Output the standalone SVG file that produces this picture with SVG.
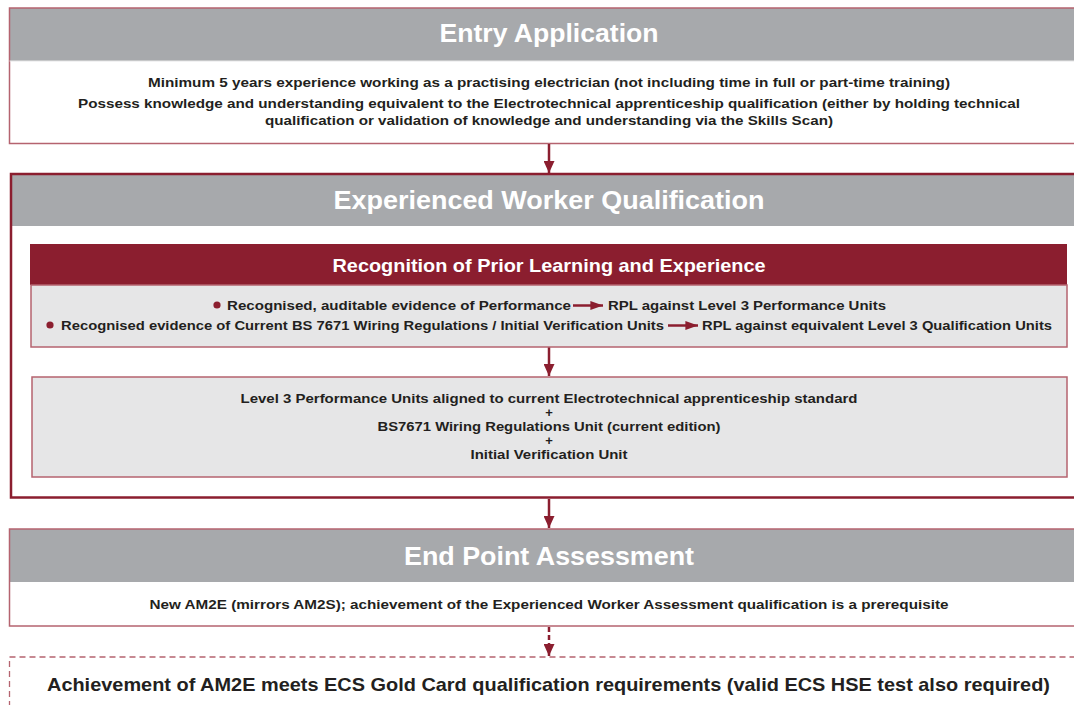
<svg xmlns="http://www.w3.org/2000/svg" width="1074" height="705" viewBox="0 0 1074 705">
<defs>
<style>
.hdr{fill:#a7a9ac}
.ttl{font-family:"Liberation Sans",Arial,sans-serif;font-weight:bold;fill:#ffffff;text-anchor:middle}
.bd{font-family:"Liberation Sans",Arial,sans-serif;font-weight:bold;font-size:13px;fill:#231f20;text-anchor:middle}
.bdl{font-family:"Liberation Sans",Arial,sans-serif;font-weight:bold;font-size:13px;fill:#231f20}
.lb{fill:none;stroke:#b5636f;stroke-width:1.5}
.gb{fill:#e6e6e7;stroke:#b5636f;stroke-width:1.5}
.conn{stroke:#8b1e2f;stroke-width:2.5;fill:none}
.bul{fill:#8b1e2f}
</style>
<marker id="ah" viewBox="0 0 12 11" refX="12" refY="5.5" markerWidth="12" markerHeight="11" markerUnits="userSpaceOnUse" orient="auto">
<path d="M0,0 L12,5.5 L0,11 Z" fill="#8b1e2f"/>
</marker>
<marker id="ah2" viewBox="0 0 14 10" refX="14" refY="5" markerWidth="14" markerHeight="9" markerUnits="userSpaceOnUse" orient="auto">
<path d="M0,0 L14,5 L0,10 Z" fill="#8b1e2f"/>
</marker>
</defs>
<rect width="1074" height="705" fill="#ffffff"/>

<g id="entry">
<rect x="9.5" y="8" width="1070" height="53" class="hdr"/>
<rect x="9.5" y="8" width="1070" height="135.5" class="lb"/>
<line x1="9.5" y1="61" x2="1074" y2="61" stroke="#e6e6e7" stroke-width="1"/>
<text x="549" y="42" class="ttl" font-size="26" textLength="219" lengthAdjust="spacingAndGlyphs">Entry Application</text>
<text x="549" y="87" class="bd" textLength="802" lengthAdjust="spacingAndGlyphs">Minimum 5 years experience working as a practising electrician (not including time in full or part-time training)</text>
<text x="549" y="108" class="bd" textLength="942" lengthAdjust="spacingAndGlyphs">Possess knowledge and understanding equivalent to the Electrotechnical apprenticeship qualification (either by holding technical</text>
<text x="549" y="125" class="bd" textLength="568" lengthAdjust="spacingAndGlyphs">qualification or validation of knowledge and understanding via the Skills Scan)</text>
</g>

<g id="ewq">
<rect x="11" y="174" width="1070" height="52" class="hdr"/>
<rect x="11" y="174" width="1070" height="323.5" fill="none" stroke="#8b1e2f" stroke-width="2.5"/>
<text x="549" y="209" class="ttl" font-size="26" textLength="431" lengthAdjust="spacingAndGlyphs">Experienced Worker Qualification</text>
</g>

<g id="rpl">
<rect x="30" y="244" width="1037" height="41" fill="#8b1e2f"/>
<rect x="31" y="285" width="1036" height="62" class="gb"/>
<text x="549" y="272" class="ttl" font-size="19" textLength="433" lengthAdjust="spacingAndGlyphs">Recognition of Prior Learning and Experience</text>
<circle cx="217" cy="305" r="3.6" class="bul"/>
<text x="227" y="310" class="bdl" textLength="344" lengthAdjust="spacingAndGlyphs">Recognised, auditable evidence of Performance</text>
<line x1="573" y1="305.5" x2="603" y2="305.5" stroke="#8b1e2f" stroke-width="2.5" marker-end="url(#ah2)"/>
<text x="608" y="310" class="bdl" textLength="278" lengthAdjust="spacingAndGlyphs">RPL against Level 3 Performance Units</text>
<circle cx="50" cy="325" r="3.6" class="bul"/>
<text x="61" y="330" class="bdl" textLength="603" lengthAdjust="spacingAndGlyphs">Recognised evidence of Current BS 7671 Wiring Regulations / Initial Verification Units</text>
<line x1="668" y1="325.5" x2="698" y2="325.5" stroke="#8b1e2f" stroke-width="2.5" marker-end="url(#ah2)"/>
<text x="702" y="330" class="bdl" textLength="350" lengthAdjust="spacingAndGlyphs">RPL against equivalent Level 3 Qualification Units</text>
</g>

<g id="level3">
<rect x="32" y="377" width="1035" height="100" class="gb"/>
<text x="549" y="403" class="bd" textLength="617" lengthAdjust="spacingAndGlyphs">Level 3 Performance Units aligned to current Electrotechnical apprenticeship standard</text>
<text x="549" y="416.5" class="bd">+</text>
<text x="549" y="431" class="bd" textLength="343" lengthAdjust="spacingAndGlyphs">BS7671 Wiring Regulations Unit (current edition)</text>
<text x="549" y="444.5" class="bd">+</text>
<text x="549" y="459" class="bd" textLength="157" lengthAdjust="spacingAndGlyphs">Initial Verification Unit</text>
</g>

<g id="epa">
<rect x="9.5" y="529" width="1070" height="53" class="hdr"/>
<rect x="9.5" y="529" width="1070" height="97" class="lb"/>
<text x="549" y="565" class="ttl" font-size="26" textLength="290" lengthAdjust="spacingAndGlyphs">End Point Assessment</text>
<text x="549" y="609" class="bd" textLength="799" lengthAdjust="spacingAndGlyphs">New AM2E (mirrors AM2S); achievement of the Experienced Worker Assessment qualification is a prerequisite</text>
</g>

<g id="gold">
<rect x="9.5" y="657" width="1075" height="60" fill="none" stroke="#b5636f" stroke-width="1.3" stroke-dasharray="6,4"/>
<text x="47" y="691" font-family="'Liberation Sans',Arial,sans-serif" font-weight="bold" font-size="19" fill="#231f20" textLength="1003" lengthAdjust="spacingAndGlyphs">Achievement of AM2E meets ECS Gold Card qualification requirements (valid ECS HSE test also required)</text>
</g>

<g id="connectors">
<line x1="549" y1="144" x2="549" y2="173" class="conn" marker-end="url(#ah)"/>
<line x1="549" y1="347.5" x2="549" y2="376" class="conn" marker-end="url(#ah)"/>
<line x1="549" y1="499" x2="549" y2="528" class="conn" marker-end="url(#ah)"/>
<line x1="549" y1="627" x2="549" y2="656" class="conn" stroke-dasharray="5,3" marker-end="url(#ah)"/>
</g>
</svg>
